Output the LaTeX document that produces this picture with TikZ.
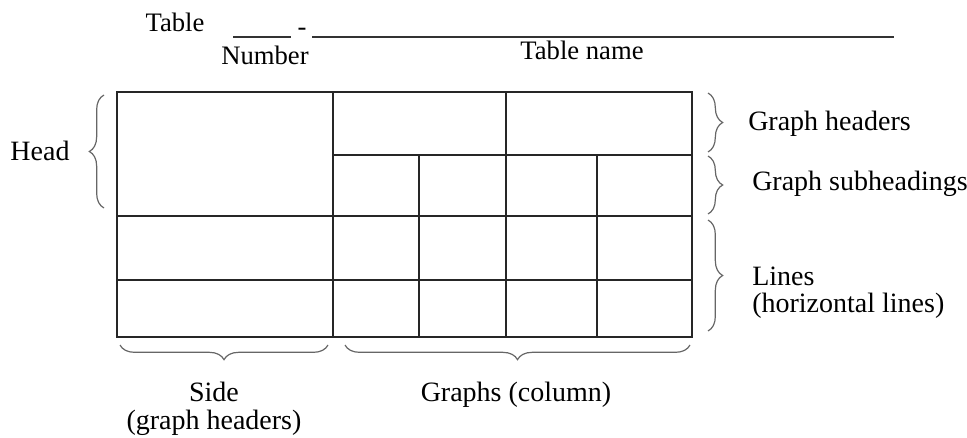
\documentclass[tikz,border=0pt]{standalone}
\usepackage{fontspec}
\setmainfont{Liberation Serif}
\usetikzlibrary{decorations.pathreplacing,positioning}

\tikzset{
  gridline/.style={line width=1.1pt, black!85},
  curly/.style={decorate, decoration={brace, amplitude=11pt}, black!60, line width=0.9pt},
  txt/.style={font=\fontsize{20}{24}\selectfont, inner sep=0pt},
  bigtxt/.style={font=\fontsize{21}{21}\selectfont, inner sep=0pt},
  blankline/.style={line width=1.3pt, black!80},
}

\begin{document}
\begin{tikzpicture}[x=0.75pt,y=-0.75pt]
  \useasboundingbox (0,0) rectangle (967,438);

  % caption line
  \node[txt] (title) at (175,22) {Table};
  \coordinate (numa) at (233,37);
  \coordinate (numb) at (291,37);
  \node[txt] (dash) at (302,32) {-};
  \coordinate (namea) at (312,37);
  \coordinate (nameb) at (894,37);
  \draw[blankline] (numa) -- (numb);
  \draw[blankline] (namea) -- (nameb);
  \node[txt] (number) at (265,55) {Number};
  \node[txt] (tname) at (582,50) {Table name};

  % the table itself
  \coordinate (nw) at (117,92);
  \coordinate (se) at (692,337);
  \draw[gridline] (nw) rectangle (se);
  \draw[gridline] (333,92) -- (333,337);
  \draw[gridline] (506,92) -- (506,337);
  \draw[gridline] (419,155) -- (419,337);
  \draw[gridline] (597,155) -- (597,337);
  \draw[gridline] (333,155) -- (692,155);
  \draw[gridline] (117,216) -- (692,216);
  \draw[gridline] (117,280) -- (692,280);

  % braces
  \draw[curly] (104,208) -- (104,95);
  \draw[curly] (708,93) -- (708,152);
  \draw[curly] (708,156) -- (708,214);
  \draw[curly] (708,220) -- (708,331);
  \draw[curly] (328,345) -- (120,345);
  \draw[curly] (690,345) -- (345,345);

  % labels
  \node[bigtxt] (head) at (40,151) {Head};
  \node[bigtxt, anchor=west] (ghead) at (748,124) {Graph headers};
  \node[bigtxt, anchor=west] (gsub) at (752,184) {Graph subheadings};
  \node[bigtxt, anchor=west] (lines) at (752,276) {Lines};
  \node[bigtxt, anchor=west] (horiz) at (752,306) {(horizontal lines)};
  \node[bigtxt, align=center] (side) at (214,409) {Side\\(graph headers)};
  \node[bigtxt] (graphs) at (516,395) {Graphs (column)};
\end{tikzpicture}
\end{document}
